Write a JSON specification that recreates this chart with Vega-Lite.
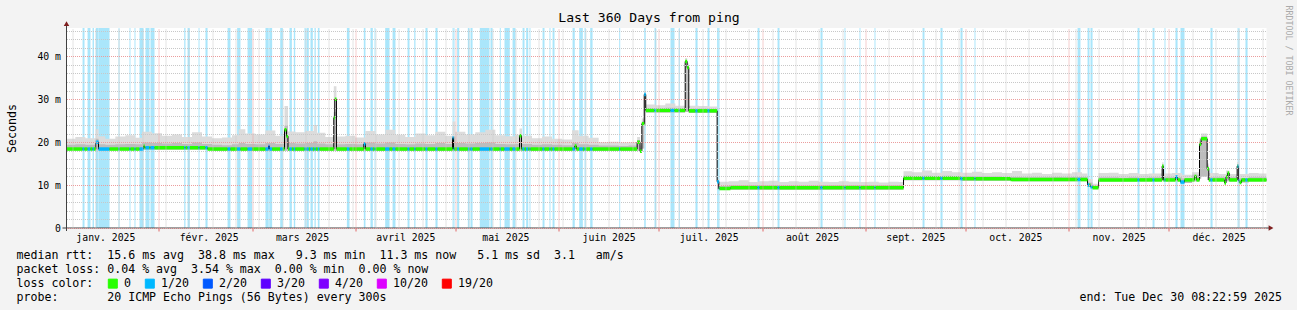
{
"$schema": "https://vega.github.io/schema/vega-lite/v6.json",
"width": 1200, "height": 200,
"autosize": {"type": "none"},
"padding": {"left": 66.5, "top": 28, "right": 30.5, "bottom": 82},
"background": "#f3f3f3",
"config": {"view": {"fill": "#ffffff", "stroke": null}, "font": "DejaVu Sans Mono"},
"data": {"format": {"parse": {"t0": "utc:'%Y-%j %H'", "t1": "utc:'%Y-%j %H'"}}, "values": [
{"t0":"2025-004 09","t1":"2025-009 04","med":18.4,"loss":"0"},
{"t0":"2025-009 04","t1":"2025-009 18","med":18.4,"loss":"1/20"},
{"t0":"2025-009 18","t1":"2025-010 16","med":18.4,"loss":"0"},
{"t0":"2025-010 16","t1":"2025-011 13","med":18.4,"loss":"1/20"},
{"t0":"2025-011 13","t1":"2025-012 04","med":18.4,"loss":"0"},
{"t0":"2025-012 04","t1":"2025-012 14","med":18.4,"loss":"1/20"},
{"t0":"2025-012 14","t1":"2025-013 03","med":18.4,"loss":"0"},
{"t0":"2025-013 03","t1":"2025-013 23","med":20.0,"loss":"1/20"},
{"t0":"2025-013 23","t1":"2025-017 06","med":18.4,"loss":"1/20"},
{"t0":"2025-017 06","t1":"2025-019 23","med":18.4,"loss":"0"},
{"t0":"2025-019 23","t1":"2025-020 06","med":18.4,"loss":"1/20"},
{"t0":"2025-020 06","t1":"2025-023 06","med":18.4,"loss":"0"},
{"t0":"2025-023 06","t1":"2025-023 13","med":18.4,"loss":"1/20"},
{"t0":"2025-023 13","t1":"2025-024 18","med":18.4,"loss":"0"},
{"t0":"2025-024 18","t1":"2025-025 01","med":18.4,"loss":"1/20"},
{"t0":"2025-025 01","t1":"2025-026 06","med":18.4,"loss":"0"},
{"t0":"2025-026 06","t1":"2025-027 11","med":18.4,"loss":"1/20"},
{"t0":"2025-027 11","t1":"2025-027 18","med":19.1,"loss":"0"},
{"t0":"2025-027 18","t1":"2025-028 01","med":18.7,"loss":"0"},
{"t0":"2025-028 01","t1":"2025-029 06","med":18.7,"loss":"1/20"},
{"t0":"2025-029 06","t1":"2025-029 13","med":18.7,"loss":"0"},
{"t0":"2025-029 13","t1":"2025-030 18","med":18.7,"loss":"1/20"},
{"t0":"2025-030 18","t1":"2025-039 16","med":18.7,"loss":"0"},
{"t0":"2025-039 16","t1":"2025-040 01","med":18.7,"loss":"1/20"},
{"t0":"2025-040 01","t1":"2025-040 16","med":18.7,"loss":"0"},
{"t0":"2025-040 16","t1":"2025-041 08","med":18.7,"loss":"1/20"},
{"t0":"2025-041 08","t1":"2025-043 23","med":18.7,"loss":"0"},
{"t0":"2025-043 23","t1":"2025-044 06","med":18.7,"loss":"1/20"},
{"t0":"2025-044 06","t1":"2025-046 01","med":18.7,"loss":"0"},
{"t0":"2025-046 01","t1":"2025-046 16","med":18.7,"loss":"1/20"},
{"t0":"2025-046 16","t1":"2025-052 16","med":18.4,"loss":"0"},
{"t0":"2025-052 16","t1":"2025-053 13","med":18.4,"loss":"1/20"},
{"t0":"2025-053 13","t1":"2025-055 13","med":18.4,"loss":"0"},
{"t0":"2025-055 13","t1":"2025-056 13","med":18.4,"loss":"1/20"},
{"t0":"2025-056 13","t1":"2025-058 16","med":18.4,"loss":"0"},
{"t0":"2025-058 16","t1":"2025-060 01","med":18.4,"loss":"1/20"},
{"t0":"2025-060 01","t1":"2025-064 01","med":18.4,"loss":"0"},
{"t0":"2025-064 01","t1":"2025-064 23","med":18.4,"loss":"1/20"},
{"t0":"2025-064 23","t1":"2025-065 06","med":19.0,"loss":"2/20"},
{"t0":"2025-065 06","t1":"2025-066 01","med":18.4,"loss":"1/20"},
{"t0":"2025-066 01","t1":"2025-068 11","med":18.4,"loss":"0"},
{"t0":"2025-068 11","t1":"2025-069 06","med":18.4,"loss":"1/20"},
{"t0":"2025-069 06","t1":"2025-069 18","med":18.4,"loss":"0"},
{"t0":"2025-069 18","t1":"2025-070 08","med":22.9,"loss":"0"},
{"t0":"2025-070 08","t1":"2025-070 19","med":21.4,"loss":"0"},
{"t0":"2025-070 19","t1":"2025-071 06","med":18.4,"loss":"0"},
{"t0":"2025-071 06","t1":"2025-071 23","med":18.4,"loss":"1/20"},
{"t0":"2025-071 23","t1":"2025-072 13","med":18.4,"loss":"0"},
{"t0":"2025-072 13","t1":"2025-072 23","med":18.4,"loss":"1/20"},
{"t0":"2025-072 23","t1":"2025-075 18","med":18.4,"loss":"0"},
{"t0":"2025-075 18","t1":"2025-076 03","med":18.4,"loss":"1/20"},
{"t0":"2025-076 03","t1":"2025-076 08","med":18.4,"loss":"0"},
{"t0":"2025-076 08","t1":"2025-077 01","med":18.4,"loss":"1/20"},
{"t0":"2025-077 01","t1":"2025-077 13","med":18.4,"loss":"0"},
{"t0":"2025-077 13","t1":"2025-078 06","med":18.4,"loss":"1/20"},
{"t0":"2025-078 06","t1":"2025-078 18","med":18.4,"loss":"0"},
{"t0":"2025-078 18","t1":"2025-079 03","med":18.4,"loss":"1/20"},
{"t0":"2025-079 03","t1":"2025-079 18","med":18.4,"loss":"0"},
{"t0":"2025-079 18","t1":"2025-080 06","med":18.4,"loss":"1/20"},
{"t0":"2025-080 06","t1":"2025-084 13","med":18.4,"loss":"0"},
{"t0":"2025-084 13","t1":"2025-084 20","med":25.7,"loss":"0"},
{"t0":"2025-084 20","t1":"2025-085 08","med":30.0,"loss":"0"},
{"t0":"2025-085 08","t1":"2025-088 11","med":18.4,"loss":"0"},
{"t0":"2025-088 11","t1":"2025-089 06","med":18.4,"loss":"1/20"},
{"t0":"2025-089 06","t1":"2025-093 13","med":18.4,"loss":"0"},
{"t0":"2025-093 13","t1":"2025-094 01","med":19.6,"loss":"1/20"},
{"t0":"2025-094 01","t1":"2025-095 13","med":18.4,"loss":"0"},
{"t0":"2025-095 13","t1":"2025-096 06","med":18.4,"loss":"1/20"},
{"t0":"2025-096 06","t1":"2025-096 18","med":18.4,"loss":"0"},
{"t0":"2025-096 18","t1":"2025-097 01","med":18.4,"loss":"1/20"},
{"t0":"2025-097 01","t1":"2025-099 23","med":18.4,"loss":"0"},
{"t0":"2025-099 23","t1":"2025-101 06","med":18.4,"loss":"1/20"},
{"t0":"2025-101 06","t1":"2025-102 04","med":18.4,"loss":"0"},
{"t0":"2025-102 04","t1":"2025-103 01","med":18.4,"loss":"1/20"},
{"t0":"2025-103 01","t1":"2025-106 16","med":18.4,"loss":"0"},
{"t0":"2025-106 16","t1":"2025-107 06","med":18.4,"loss":"1/20"},
{"t0":"2025-107 06","t1":"2025-108 16","med":18.4,"loss":"0"},
{"t0":"2025-108 16","t1":"2025-109 01","med":18.4,"loss":"1/20"},
{"t0":"2025-109 01","t1":"2025-112 01","med":18.4,"loss":"0"},
{"t0":"2025-112 01","t1":"2025-112 16","med":18.4,"loss":"1/20"},
{"t0":"2025-112 16","t1":"2025-115 01","med":18.4,"loss":"0"},
{"t0":"2025-115 01","t1":"2025-115 16","med":18.4,"loss":"1/20"},
{"t0":"2025-115 16","t1":"2025-120 04","med":18.4,"loss":"0"},
{"t0":"2025-120 04","t1":"2025-120 11","med":21.0,"loss":"1/20"},
{"t0":"2025-120 11","t1":"2025-120 18","med":18.4,"loss":"1/20"},
{"t0":"2025-120 18","t1":"2025-121 13","med":18.4,"loss":"0"},
{"t0":"2025-121 13","t1":"2025-122 04","med":18.4,"loss":"1/20"},
{"t0":"2025-122 04","t1":"2025-124 18","med":18.4,"loss":"0"},
{"t0":"2025-124 18","t1":"2025-125 06","med":18.4,"loss":"1/20"},
{"t0":"2025-125 06","t1":"2025-125 13","med":18.4,"loss":"0"},
{"t0":"2025-125 13","t1":"2025-126 04","med":18.4,"loss":"1/20"},
{"t0":"2025-126 04","t1":"2025-128 08","med":18.4,"loss":"0"},
{"t0":"2025-128 08","t1":"2025-131 06","med":18.4,"loss":"1/20"},
{"t0":"2025-131 06","t1":"2025-131 13","med":18.4,"loss":"0"},
{"t0":"2025-131 13","t1":"2025-132 04","med":18.4,"loss":"1/20"},
{"t0":"2025-132 04","t1":"2025-134 08","med":18.4,"loss":"0"},
{"t0":"2025-134 08","t1":"2025-134 15","med":18.4,"loss":"1/20"},
{"t0":"2025-134 15","t1":"2025-135 18","med":18.4,"loss":"0"},
{"t0":"2025-135 18","t1":"2025-137 08","med":18.4,"loss":"1/20"},
{"t0":"2025-137 08","t1":"2025-138 04","med":18.4,"loss":"0"},
{"t0":"2025-138 04","t1":"2025-139 01","med":18.4,"loss":"1/20"},
{"t0":"2025-139 01","t1":"2025-140 06","med":18.4,"loss":"0"},
{"t0":"2025-140 06","t1":"2025-140 20","med":21.5,"loss":"0"},
{"t0":"2025-140 20","t1":"2025-141 04","med":18.4,"loss":"0"},
{"t0":"2025-141 04","t1":"2025-141 18","med":18.4,"loss":"1/20"},
{"t0":"2025-141 18","t1":"2025-142 06","med":18.4,"loss":"0"},
{"t0":"2025-142 06","t1":"2025-142 21","med":18.4,"loss":"1/20"},
{"t0":"2025-142 21","t1":"2025-143 06","med":18.4,"loss":"0"},
{"t0":"2025-143 06","t1":"2025-143 13","med":18.4,"loss":"1/20"},
{"t0":"2025-143 13","t1":"2025-147 04","med":18.4,"loss":"0"},
{"t0":"2025-147 04","t1":"2025-147 18","med":18.4,"loss":"1/20"},
{"t0":"2025-147 18","t1":"2025-149 06","med":18.4,"loss":"0"},
{"t0":"2025-149 06","t1":"2025-149 13","med":18.4,"loss":"1/20"},
{"t0":"2025-149 13","t1":"2025-150 04","med":18.4,"loss":"0"},
{"t0":"2025-150 04","t1":"2025-150 18","med":18.4,"loss":"1/20"},
{"t0":"2025-150 18","t1":"2025-156 04","med":18.4,"loss":"0"},
{"t0":"2025-156 04","t1":"2025-156 20","med":18.4,"loss":"1/20"},
{"t0":"2025-156 20","t1":"2025-157 08","med":19.1,"loss":"0"},
{"t0":"2025-157 08","t1":"2025-158 04","med":18.4,"loss":"0"},
{"t0":"2025-158 04","t1":"2025-159 06","med":18.4,"loss":"1/20"},
{"t0":"2025-159 06","t1":"2025-159 18","med":18.4,"loss":"0"},
{"t0":"2025-159 18","t1":"2025-160 03","med":18.4,"loss":"1/20"},
{"t0":"2025-160 03","t1":"2025-161 11","med":18.4,"loss":"0"},
{"t0":"2025-161 11","t1":"2025-162 04","med":18.4,"loss":"1/20"},
{"t0":"2025-162 04","t1":"2025-170 04","med":18.4,"loss":"0"},
{"t0":"2025-170 04","t1":"2025-170 11","med":18.4,"loss":"1/20"},
{"t0":"2025-170 11","t1":"2025-175 13","med":18.4,"loss":"0"},
{"t0":"2025-175 13","t1":"2025-176 10","med":20.0,"loss":"0"},
{"t0":"2025-176 10","t1":"2025-176 23","med":17.9,"loss":"0"},
{"t0":"2025-176 23","t1":"2025-177 16","med":24.3,"loss":"0"},
{"t0":"2025-177 16","t1":"2025-178 03","med":31.1,"loss":"1/20"},
{"t0":"2025-178 03","t1":"2025-180 18","med":27.4,"loss":"0"},
{"t0":"2025-180 18","t1":"2025-181 06","med":27.4,"loss":"1/20"},
{"t0":"2025-181 06","t1":"2025-185 13","med":27.4,"loss":"0"},
{"t0":"2025-185 13","t1":"2025-186 18","med":27.4,"loss":"1/20"},
{"t0":"2025-186 18","t1":"2025-188 01","med":27.4,"loss":"0"},
{"t0":"2025-188 01","t1":"2025-188 08","med":27.4,"loss":"1/20"},
{"t0":"2025-188 08","t1":"2025-189 23","med":27.4,"loss":"0"},
{"t0":"2025-189 23","t1":"2025-190 13","med":38.8,"loss":"0"},
{"t0":"2025-190 13","t1":"2025-191 01","med":37.4,"loss":"0"},
{"t0":"2025-191 01","t1":"2025-193 01","med":27.3,"loss":"0"},
{"t0":"2025-193 01","t1":"2025-193 16","med":27.3,"loss":"1/20"},
{"t0":"2025-193 16","t1":"2025-196 16","med":27.3,"loss":"0"},
{"t0":"2025-196 16","t1":"2025-197 06","med":27.3,"loss":"1/20"},
{"t0":"2025-197 06","t1":"2025-199 13","med":27.3,"loss":"0"},
{"t0":"2025-199 13","t1":"2025-200 01","med":10.8,"loss":"1/20"},
{"t0":"2025-200 01","t1":"2025-200 06","med":9.2,"loss":"1/20"},
{"t0":"2025-200 06","t1":"2025-203 13","med":9.2,"loss":"0"},
{"t0":"2025-203 13","t1":"2025-211 16","med":9.4,"loss":"0"},
{"t0":"2025-211 16","t1":"2025-212 06","med":9.4,"loss":"1/20"},
{"t0":"2025-212 06","t1":"2025-217 16","med":9.4,"loss":"0"},
{"t0":"2025-217 16","t1":"2025-218 06","med":9.4,"loss":"1/20"},
{"t0":"2025-218 06","t1":"2025-230 13","med":9.4,"loss":"0"},
{"t0":"2025-230 13","t1":"2025-231 04","med":9.4,"loss":"1/20"},
{"t0":"2025-231 04","t1":"2025-237 18","med":9.4,"loss":"0"},
{"t0":"2025-237 18","t1":"2025-238 01","med":9.4,"loss":"1/20"},
{"t0":"2025-238 01","t1":"2025-242 06","med":9.4,"loss":"0"},
{"t0":"2025-242 06","t1":"2025-242 13","med":9.4,"loss":"1/20"},
{"t0":"2025-242 13","t1":"2025-246 18","med":9.4,"loss":"0"},
{"t0":"2025-246 18","t1":"2025-247 01","med":9.4,"loss":"1/20"},
{"t0":"2025-247 01","t1":"2025-255 11","med":9.4,"loss":"0"},
{"t0":"2025-255 11","t1":"2025-261 04","med":11.6,"loss":"0"},
{"t0":"2025-261 04","t1":"2025-261 18","med":11.6,"loss":"1/20"},
{"t0":"2025-261 18","t1":"2025-266 13","med":11.6,"loss":"0"},
{"t0":"2025-266 13","t1":"2025-267 04","med":11.6,"loss":"1/20"},
{"t0":"2025-267 04","t1":"2025-272 13","med":11.6,"loss":"0"},
{"t0":"2025-272 13","t1":"2025-273 04","med":11.5,"loss":"1/20"},
{"t0":"2025-273 04","t1":"2025-276 18","med":11.5,"loss":"0"},
{"t0":"2025-276 18","t1":"2025-277 01","med":11.5,"loss":"1/20"},
{"t0":"2025-277 01","t1":"2025-287 13","med":11.5,"loss":"0"},
{"t0":"2025-287 13","t1":"2025-307 16","med":11.3,"loss":"0"},
{"t0":"2025-307 16","t1":"2025-308 13","med":11.3,"loss":"1/20"},
{"t0":"2025-308 13","t1":"2025-310 16","med":11.3,"loss":"0"},
{"t0":"2025-310 16","t1":"2025-311 06","med":10.0,"loss":"1/20"},
{"t0":"2025-311 06","t1":"2025-311 13","med":10.0,"loss":"0"},
{"t0":"2025-311 13","t1":"2025-312 04","med":9.6,"loss":"1/20"},
{"t0":"2025-312 04","t1":"2025-313 23","med":9.4,"loss":"0"},
{"t0":"2025-313 23","t1":"2025-325 16","med":11.2,"loss":"0"},
{"t0":"2025-325 16","t1":"2025-326 06","med":11.2,"loss":"1/20"},
{"t0":"2025-326 06","t1":"2025-330 04","med":11.2,"loss":"0"},
{"t0":"2025-330 04","t1":"2025-330 18","med":11.2,"loss":"1/20"},
{"t0":"2025-330 18","t1":"2025-333 01","med":11.2,"loss":"0"},
{"t0":"2025-333 01","t1":"2025-333 11","med":14.4,"loss":"0"},
{"t0":"2025-333 11","t1":"2025-333 18","med":11.2,"loss":"0"},
{"t0":"2025-333 18","t1":"2025-334 01","med":11.2,"loss":"1/20"},
{"t0":"2025-334 01","t1":"2025-337 01","med":11.2,"loss":"0"},
{"t0":"2025-337 01","t1":"2025-337 16","med":11.9,"loss":"1/20"},
{"t0":"2025-337 16","t1":"2025-338 13","med":11.2,"loss":"0"},
{"t0":"2025-338 13","t1":"2025-339 18","med":10.7,"loss":"1/20"},
{"t0":"2025-339 18","t1":"2025-342 18","med":11.2,"loss":"0"},
{"t0":"2025-342 18","t1":"2025-343 08","med":12.0,"loss":"0"},
{"t0":"2025-343 08","t1":"2025-344 06","med":11.2,"loss":"0"},
{"t0":"2025-344 06","t1":"2025-344 18","med":19.5,"loss":"0"},
{"t0":"2025-344 18","t1":"2025-346 13","med":20.8,"loss":"0"},
{"t0":"2025-346 13","t1":"2025-347 01","med":13.8,"loss":"0"},
{"t0":"2025-347 01","t1":"2025-347 13","med":11.2,"loss":"0"},
{"t0":"2025-347 13","t1":"2025-348 04","med":11.2,"loss":"1/20"},
{"t0":"2025-348 04","t1":"2025-351 18","med":11.2,"loss":"0"},
{"t0":"2025-351 18","t1":"2025-352 05","med":10.5,"loss":"0"},
{"t0":"2025-352 05","t1":"2025-352 16","med":11.9,"loss":"0"},
{"t0":"2025-352 16","t1":"2025-353 04","med":12.8,"loss":"0"},
{"t0":"2025-353 04","t1":"2025-355 13","med":11.2,"loss":"0"},
{"t0":"2025-355 13","t1":"2025-355 16","med":14.4,"loss":"0"},
{"t0":"2025-355 16","t1":"2025-355 23","med":14.4,"loss":"1/20"},
{"t0":"2025-355 23","t1":"2025-356 06","med":11.0,"loss":"1/20"},
{"t0":"2025-356 06","t1":"2025-356 20","med":10.6,"loss":"0"},
{"t0":"2025-356 20","t1":"2025-358 01","med":11.2,"loss":"0"},
{"t0":"2025-358 01","t1":"2025-358 16","med":11.2,"loss":"1/20"},
{"t0":"2025-358 16","t1":"2025-364 08","med":11.2,"loss":"0"},
{"t0":"2025-364 08","t1":"2025-364 08","med":11.2,"loss":"0"}
]},
"resolve": {"axis": {"x": "independent", "y": "independent"}},
"layer": [
{
"transform": [{"filter": "datum.loss != '0'"}],
"mark": {"type": "rect", "color": "#aae6fb"},
"encoding": {
"x": {"field": "t0", "type": "temporal",
"scale": {"type": "utc", "domain": [{"year":2025,"month":1,"date":4,"hours":8,"minutes":23,"utc":true},{"year":2025,"month":12,"date":30,"hours":8,"minutes":23,"utc":true}]},
"axis": {
"orient": "bottom",
"values": [
{"year":2025,"month":1,"date":6,"utc":true},{"year":2025,"month":1,"date":13,"utc":true},{"year":2025,"month":1,"date":16,"utc":true},{"year":2025,"month":1,"date":20,"utc":true},{"year":2025,"month":1,"date":27,"utc":true},
{"year":2025,"month":2,"date":1,"utc":true},{"year":2025,"month":2,"date":3,"utc":true},{"year":2025,"month":2,"date":10,"utc":true},{"year":2025,"month":2,"date":16,"utc":true},{"year":2025,"month":2,"date":17,"utc":true},{"year":2025,"month":2,"date":24,"utc":true},
{"year":2025,"month":3,"date":1,"utc":true},{"year":2025,"month":3,"date":3,"utc":true},{"year":2025,"month":3,"date":10,"utc":true},{"year":2025,"month":3,"date":16,"utc":true},{"year":2025,"month":3,"date":17,"utc":true},{"year":2025,"month":3,"date":24,"utc":true},{"year":2025,"month":3,"date":31,"utc":true},
{"year":2025,"month":4,"date":1,"utc":true},{"year":2025,"month":4,"date":7,"utc":true},{"year":2025,"month":4,"date":14,"utc":true},{"year":2025,"month":4,"date":16,"utc":true},{"year":2025,"month":4,"date":21,"utc":true},{"year":2025,"month":4,"date":28,"utc":true},
{"year":2025,"month":5,"date":1,"utc":true},{"year":2025,"month":5,"date":5,"utc":true},{"year":2025,"month":5,"date":12,"utc":true},{"year":2025,"month":5,"date":16,"utc":true},{"year":2025,"month":5,"date":19,"utc":true},{"year":2025,"month":5,"date":26,"utc":true},
{"year":2025,"month":6,"date":1,"utc":true},{"year":2025,"month":6,"date":2,"utc":true},{"year":2025,"month":6,"date":9,"utc":true},{"year":2025,"month":6,"date":16,"utc":true},{"year":2025,"month":6,"date":23,"utc":true},{"year":2025,"month":6,"date":30,"utc":true},
{"year":2025,"month":7,"date":1,"utc":true},{"year":2025,"month":7,"date":7,"utc":true},{"year":2025,"month":7,"date":14,"utc":true},{"year":2025,"month":7,"date":16,"utc":true},{"year":2025,"month":7,"date":21,"utc":true},{"year":2025,"month":7,"date":28,"utc":true},
{"year":2025,"month":8,"date":1,"utc":true},{"year":2025,"month":8,"date":4,"utc":true},{"year":2025,"month":8,"date":11,"utc":true},{"year":2025,"month":8,"date":16,"utc":true},{"year":2025,"month":8,"date":18,"utc":true},{"year":2025,"month":8,"date":25,"utc":true},
{"year":2025,"month":9,"date":1,"utc":true},{"year":2025,"month":9,"date":8,"utc":true},{"year":2025,"month":9,"date":15,"utc":true},{"year":2025,"month":9,"date":16,"utc":true},{"year":2025,"month":9,"date":22,"utc":true},{"year":2025,"month":9,"date":29,"utc":true},
{"year":2025,"month":10,"date":1,"utc":true},{"year":2025,"month":10,"date":6,"utc":true},{"year":2025,"month":10,"date":13,"utc":true},{"year":2025,"month":10,"date":16,"utc":true},{"year":2025,"month":10,"date":20,"utc":true},{"year":2025,"month":10,"date":27,"utc":true},
{"year":2025,"month":11,"date":1,"utc":true},{"year":2025,"month":11,"date":3,"utc":true},{"year":2025,"month":11,"date":10,"utc":true},{"year":2025,"month":11,"date":16,"utc":true},{"year":2025,"month":11,"date":17,"utc":true},{"year":2025,"month":11,"date":24,"utc":true},
{"year":2025,"month":12,"date":1,"utc":true},{"year":2025,"month":12,"date":8,"utc":true},{"year":2025,"month":12,"date":15,"utc":true},{"year":2025,"month":12,"date":16,"utc":true},{"year":2025,"month":12,"date":22,"utc":true},{"year":2025,"month":12,"date":29,"utc":true}
],
"domain": false,
"grid": true, "gridDash": [1, 1], "gridWidth": 1,
"gridColor": {"condition": {"test": "utcdate(datum.value) == 1", "value": "#eb9d9d"}, "value": "#c8c8c8"},
"gridOpacity": {"condition": {"test": "utcdate(datum.value) == 16 && utcday(datum.value) != 1", "value": 0}, "value": 1},
"ticks": true, "tickSize": 3, "tickColor": "#e06666",
"tickOpacity": {"condition": {"test": "utcdate(datum.value) == 1", "value": 1}, "value": 0},
"labelExpr": "utcdate(datum.value) == 16 ? ['janv.','févr.','mars','avril','mai','juin','juil.','août','sept.','oct.','nov.','déc.'][utcmonth(datum.value)] + ' 2025' : ''",
"labelFont": "DejaVu Sans Mono", "labelFontSize": 9.8, "labelColor": "#000000", "labelPadding": 1, "labelOverlap": false, "labelFlush": false, "labelBound": false, "labelAngle": 0,
"title": [
"median rtt:\u00a0\u00a015.6 ms avg\u00a0\u00a038.8 ms max\u00a0\u00a0\u00a09.3 ms min\u00a0\u00a011.3 ms now\u00a0\u00a0\u00a05.1 ms sd\u00a0\u00a03.1\u00a0\u00a0\u00a0am/s",
"packet loss: 0.04 % avg\u00a0\u00a03.54 % max\u00a0\u00a00.00 % min\u00a0\u00a00.00 % now",
"loss color:",
"probe:\u00a0\u00a0\u00a0\u00a0\u00a0\u00a0\u00a020 ICMP Echo Pings (56 Bytes) every 300s"
],
"titleFont": "DejaVu Sans Mono", "titleFontSize": 11.6, "titleFontWeight": "normal", "titleColor": "#000000",
"titleAlign": "left", "titleAnchor": "start", "titleBaseline": "alphabetic", "titleX": -50.5, "titleY": 30.2, "titleLineHeight": 14, "titleLimit": 2000,
"zindex": 1
}
},
"x2": {"field": "t1"}
}
},
{
"data": {"format": {"parse": {"t": "utc:'%Y-%j %H'"}}, "values": [
{"t":"2025-004 09","lo":18.1,"mid":19.4,"hi":20.8},
{"t":"2025-007 00","lo":18.1,"mid":19.5,"hi":21.2},
{"t":"2025-010 00","lo":18.1,"mid":19.4,"hi":20.9},
{"t":"2025-013 03","lo":18.1,"mid":20.8,"hi":23.0},
{"t":"2025-013 23","lo":18.1,"mid":19.5,"hi":21.4},
{"t":"2025-016 00","lo":18.1,"mid":19.4,"hi":20.8},
{"t":"2025-019 00","lo":18.1,"mid":19.5,"hi":21.3},
{"t":"2025-022 00","lo":18.1,"mid":19.6,"hi":21.6},
{"t":"2025-025 00","lo":18.1,"mid":19.5,"hi":21.0},
{"t":"2025-027 00","lo":18.3,"mid":19.9,"hi":22.4},
{"t":"2025-030 00","lo":18.3,"mid":19.8,"hi":22.1},
{"t":"2025-033 00","lo":18.3,"mid":19.7,"hi":21.5},
{"t":"2025-036 00","lo":18.3,"mid":19.8,"hi":21.8},
{"t":"2025-039 00","lo":18.3,"mid":19.6,"hi":21.2},
{"t":"2025-042 00","lo":18.3,"mid":19.9,"hi":22.3},
{"t":"2025-045 00","lo":18.3,"mid":19.6,"hi":21.3},
{"t":"2025-048 00","lo":18.0,"mid":19.4,"hi":20.9},
{"t":"2025-051 00","lo":18.0,"mid":19.3,"hi":21.1},
{"t":"2025-054 00","lo":18.0,"mid":19.5,"hi":21.6},
{"t":"2025-056 00","lo":18.0,"mid":19.8,"hi":23.0},
{"t":"2025-058 00","lo":18.0,"mid":19.6,"hi":22.0},
{"t":"2025-061 00","lo":18.0,"mid":19.5,"hi":21.8},
{"t":"2025-064 00","lo":18.0,"mid":19.8,"hi":22.7},
{"t":"2025-067 00","lo":18.0,"mid":19.6,"hi":21.5},
{"t":"2025-069 18","lo":18.0,"mid":23.8,"hi":28.4},
{"t":"2025-070 19","lo":18.0,"mid":19.8,"hi":22.5},
{"t":"2025-073 00","lo":18.0,"mid":19.7,"hi":22.3},
{"t":"2025-076 00","lo":18.0,"mid":19.8,"hi":22.6},
{"t":"2025-078 12","lo":18.0,"mid":20.2,"hi":24.0},
{"t":"2025-079 12","lo":18.0,"mid":19.7,"hi":22.2},
{"t":"2025-082 00","lo":18.0,"mid":19.5,"hi":21.2},
{"t":"2025-084 13","lo":18.0,"mid":27.0,"hi":33.0},
{"t":"2025-085 08","lo":18.0,"mid":19.5,"hi":21.3},
{"t":"2025-088 00","lo":18.0,"mid":19.6,"hi":21.5},
{"t":"2025-091 00","lo":18.0,"mid":19.5,"hi":21.1},
{"t":"2025-094 00","lo":18.0,"mid":19.9,"hi":22.6},
{"t":"2025-097 00","lo":18.0,"mid":19.7,"hi":21.8},
{"t":"2025-100 00","lo":18.0,"mid":19.9,"hi":22.9},
{"t":"2025-103 00","lo":18.0,"mid":19.6,"hi":21.7},
{"t":"2025-106 00","lo":18.0,"mid":19.5,"hi":21.2},
{"t":"2025-109 00","lo":18.0,"mid":19.7,"hi":22.0},
{"t":"2025-112 00","lo":18.0,"mid":19.6,"hi":21.6},
{"t":"2025-115 00","lo":18.0,"mid":19.8,"hi":22.4},
{"t":"2025-118 00","lo":18.0,"mid":19.6,"hi":21.5},
{"t":"2025-120 04","lo":18.0,"mid":21.3,"hi":24.8},
{"t":"2025-121 00","lo":18.0,"mid":19.8,"hi":22.4},
{"t":"2025-124 00","lo":18.0,"mid":19.7,"hi":21.8},
{"t":"2025-127 00","lo":18.0,"mid":19.8,"hi":22.3},
{"t":"2025-130 00","lo":18.0,"mid":19.9,"hi":22.9},
{"t":"2025-133 00","lo":18.0,"mid":19.6,"hi":21.6},
{"t":"2025-136 00","lo":18.0,"mid":19.5,"hi":21.4},
{"t":"2025-139 00","lo":18.0,"mid":19.6,"hi":21.7},
{"t":"2025-140 06","lo":18.0,"mid":21.6,"hi":23.2},
{"t":"2025-141 00","lo":18.0,"mid":19.6,"hi":21.5},
{"t":"2025-144 00","lo":18.0,"mid":19.4,"hi":20.9},
{"t":"2025-147 00","lo":18.0,"mid":19.5,"hi":21.3},
{"t":"2025-150 00","lo":18.0,"mid":19.4,"hi":20.8},
{"t":"2025-153 00","lo":18.0,"mid":19.3,"hi":20.6},
{"t":"2025-156 00","lo":18.0,"mid":19.8,"hi":22.8},
{"t":"2025-158 00","lo":18.0,"mid":19.5,"hi":21.5},
{"t":"2025-161 00","lo":18.0,"mid":19.4,"hi":21.0},
{"t":"2025-164 00","lo":18.0,"mid":19.2,"hi":20.0},
{"t":"2025-167 00","lo":18.0,"mid":19.2,"hi":20.1},
{"t":"2025-170 00","lo":18.0,"mid":19.1,"hi":19.9},
{"t":"2025-173 00","lo":18.0,"mid":19.2,"hi":20.0},
{"t":"2025-175 13","lo":18.0,"mid":20.4,"hi":21.2},
{"t":"2025-176 10","lo":17.6,"mid":18.6,"hi":19.2},
{"t":"2025-176 23","lo":18.5,"mid":24.8,"hi":25.5},
{"t":"2025-177 16","lo":24.0,"mid":31.5,"hi":32.0},
{"t":"2025-178 03","lo":26.9,"mid":27.9,"hi":28.8},
{"t":"2025-181 00","lo":26.9,"mid":27.9,"hi":28.6},
{"t":"2025-184 00","lo":26.9,"mid":28.0,"hi":29.0},
{"t":"2025-187 00","lo":26.9,"mid":27.9,"hi":28.5},
{"t":"2025-189 23","lo":27.0,"mid":39.0,"hi":39.6},
{"t":"2025-190 13","lo":27.0,"mid":37.8,"hi":38.4},
{"t":"2025-191 01","lo":26.8,"mid":27.8,"hi":28.5},
{"t":"2025-194 00","lo":26.8,"mid":27.8,"hi":28.4},
{"t":"2025-197 00","lo":26.8,"mid":27.7,"hi":28.3},
{"t":"2025-199 13","lo":9.0,"mid":11.2,"hi":11.5},
{"t":"2025-200 01","lo":8.9,"mid":9.8,"hi":10.8},
{"t":"2025-203 00","lo":8.9,"mid":9.9,"hi":10.9},
{"t":"2025-206 00","lo":8.9,"mid":9.9,"hi":11.1},
{"t":"2025-209 00","lo":8.9,"mid":9.9,"hi":10.7},
{"t":"2025-212 00","lo":8.9,"mid":9.9,"hi":10.9},
{"t":"2025-215 00","lo":8.9,"mid":9.9,"hi":11.0},
{"t":"2025-218 00","lo":8.9,"mid":9.9,"hi":10.7},
{"t":"2025-221 00","lo":8.9,"mid":9.9,"hi":10.9},
{"t":"2025-224 00","lo":8.9,"mid":9.9,"hi":10.8},
{"t":"2025-227 00","lo":8.9,"mid":9.9,"hi":11.0},
{"t":"2025-230 00","lo":8.9,"mid":9.9,"hi":10.8},
{"t":"2025-233 00","lo":8.9,"mid":9.9,"hi":10.7},
{"t":"2025-236 00","lo":8.9,"mid":9.9,"hi":10.9},
{"t":"2025-239 00","lo":8.9,"mid":9.9,"hi":10.8},
{"t":"2025-242 00","lo":8.9,"mid":9.9,"hi":10.7},
{"t":"2025-245 00","lo":8.9,"mid":9.9,"hi":10.8},
{"t":"2025-248 00","lo":8.9,"mid":9.9,"hi":10.6},
{"t":"2025-251 00","lo":8.9,"mid":9.9,"hi":10.8},
{"t":"2025-254 00","lo":8.9,"mid":9.9,"hi":10.7},
{"t":"2025-255 11","lo":11.1,"mid":12.2,"hi":13.2},
{"t":"2025-258 00","lo":11.1,"mid":12.1,"hi":13.0},
{"t":"2025-261 00","lo":11.1,"mid":12.2,"hi":13.4},
{"t":"2025-264 00","lo":11.1,"mid":12.1,"hi":12.9},
{"t":"2025-267 00","lo":11.1,"mid":12.2,"hi":13.3},
{"t":"2025-270 00","lo":11.1,"mid":12.1,"hi":13.0},
{"t":"2025-273 00","lo":11.0,"mid":12.0,"hi":12.9},
{"t":"2025-276 00","lo":11.0,"mid":12.0,"hi":13.1},
{"t":"2025-279 00","lo":11.0,"mid":12.0,"hi":12.8},
{"t":"2025-282 00","lo":11.0,"mid":12.0,"hi":13.0},
{"t":"2025-285 00","lo":11.0,"mid":11.9,"hi":12.8},
{"t":"2025-288 00","lo":10.9,"mid":11.9,"hi":13.3},
{"t":"2025-291 00","lo":10.9,"mid":11.8,"hi":12.7},
{"t":"2025-294 00","lo":10.9,"mid":11.8,"hi":12.9},
{"t":"2025-297 00","lo":10.9,"mid":11.8,"hi":12.6},
{"t":"2025-300 00","lo":10.9,"mid":11.9,"hi":12.9},
{"t":"2025-303 00","lo":10.9,"mid":11.8,"hi":12.7},
{"t":"2025-306 00","lo":10.9,"mid":11.9,"hi":13.0},
{"t":"2025-309 00","lo":10.9,"mid":11.8,"hi":12.7},
{"t":"2025-310 16","lo":9.6,"mid":10.6,"hi":11.4},
{"t":"2025-312 04","lo":9.0,"mid":9.8,"hi":10.3},
{"t":"2025-313 23","lo":10.9,"mid":11.8,"hi":12.8},
{"t":"2025-317 00","lo":10.9,"mid":11.8,"hi":12.9},
{"t":"2025-320 00","lo":10.9,"mid":11.7,"hi":12.6},
{"t":"2025-323 00","lo":10.9,"mid":11.8,"hi":12.8},
{"t":"2025-326 00","lo":10.9,"mid":11.7,"hi":12.6},
{"t":"2025-329 00","lo":10.9,"mid":11.8,"hi":12.7},
{"t":"2025-333 01","lo":11.0,"mid":14.8,"hi":15.3},
{"t":"2025-333 11","lo":10.9,"mid":11.8,"hi":12.7},
{"t":"2025-336 00","lo":10.9,"mid":11.8,"hi":12.8},
{"t":"2025-339 00","lo":10.5,"mid":11.6,"hi":12.4},
{"t":"2025-342 00","lo":10.9,"mid":12.4,"hi":13.0},
{"t":"2025-344 06","lo":11.5,"mid":20.4,"hi":21.0},
{"t":"2025-344 18","lo":12.0,"mid":21.4,"hi":22.0},
{"t":"2025-346 13","lo":11.2,"mid":14.5,"hi":15.0},
{"t":"2025-347 01","lo":10.9,"mid":11.8,"hi":12.8},
{"t":"2025-350 00","lo":10.9,"mid":11.8,"hi":12.6},
{"t":"2025-352 05","lo":10.9,"mid":12.4,"hi":13.4},
{"t":"2025-353 04","lo":10.9,"mid":11.8,"hi":12.6},
{"t":"2025-355 13","lo":11.0,"mid":14.9,"hi":15.4},
{"t":"2025-355 23","lo":10.6,"mid":11.6,"hi":12.6},
{"t":"2025-359 00","lo":10.9,"mid":11.8,"hi":12.8},
{"t":"2025-362 00","lo":10.9,"mid":11.8,"hi":12.7},
{"t":"2025-364 08","lo":10.9,"mid":11.8,"hi":12.7}
]},
"transform": [{"fold": ["hi", "mid"], "as": ["band", "top"]}],
"mark": {"type": "area", "interpolate": "step-after"},
"encoding": {
"x": {"field": "t", "type": "temporal", "axis": null},
"y": {"field": "lo", "type": "quantitative", "scale": {"domain": [0, 46.6], "nice": false, "zero": false},
"axis": {"orient": "left", "values": [0,2,4,6,8,10,12,14,16,18,20,22,24,26,28,30,32,34,36,38,40,42,44,46],
"domain": false, "ticks": false, "tickSize": 0, "grid": true, "gridDash": [1, 1], "gridWidth": 1,
"gridColor": {"condition": {"test": "datum.value % 10 == 0", "value": "#eb9d9d"}, "value": "#c8c8c8"},
"labelExpr": "datum.value % 10 == 0 ? (datum.value == 0 ? '0\u00a0\u00a0' : datum.value + ' m') : ''",
"labelFont": "DejaVu Sans Mono", "labelFontSize": 9.8, "labelColor": "#000000", "labelPadding": 6, "labelOverlap": false, "labelBound": false,
"title": "Seconds", "titleFont": "DejaVu Sans Mono", "titleFontSize": 11.6, "titleFontWeight": "normal", "titleColor": "#000000",
"titleAngle": 270, "titleX": -51.2, "titleY": 100, "titleAlign": "center", "titleBaseline": "alphabetic", "zindex": 1}},
"y2": {"field": "top"},
"fill": {"field": "band", "type": "nominal", "scale": {"domain": ["hi", "mid"], "range": ["#dcdcdc", "#bdbdbd"]}, "legend": null}
}
},
{
"mark": {"type": "line", "interpolate": "step-after", "color": "#000000", "strokeWidth": 1},
"encoding": {
"x": {"field": "t0", "type": "temporal",
"axis": {"orient": "top", "labels": false, "ticks": false, "domain": false, "grid": false,
"title": "Last 360 Days from ping", "titleFont": "DejaVu Sans Mono", "titleFontSize": 13.1, "titleFontWeight": "normal", "titleColor": "#000000",
"titleX": 582, "titleY": -6.5, "titleAlign": "center", "titleAnchor": "middle", "titleBaseline": "alphabetic"}},
"y": {"field": "med", "type": "quantitative",
"axis": {"orient": "right", "labels": false, "ticks": false, "domain": false, "grid": false,
"title": "RRDTOOL / TOBI OETIKER", "titleFont": "DejaVu Sans Mono", "titleFontSize": 8.3, "titleFontWeight": "normal", "titleColor": "#aaaaaa",
"titleAngle": 90, "titleX": 21, "titleY": -23, "titleAlign": "left", "titleAnchor": "start", "titleBaseline": "middle"}}
}
},
{
"mark": {"type": "rule", "strokeWidth": 3.5},
"encoding": {
"x": {"field": "t0", "type": "temporal",
"axis": {"orient": "bottom", "labels": false, "ticks": false, "domain": false, "grid": false,
"title": "end: Tue Dec 30 08:22:59 2025", "titleFont": "DejaVu Sans Mono", "titleFontSize": 11.6, "titleFontWeight": "normal", "titleColor": "#000000",
"titleX": 1214.9, "titleY": 72.2, "titleAlign": "right", "titleAnchor": "end", "titleBaseline": "alphabetic", "titleLimit": 1000}},
"x2": {"field": "t1"},
"y": {"field": "med", "type": "quantitative", "axis": null},
"color": {"field": "loss", "type": "nominal",
"scale": {"domain": ["0", "1/20", "2/20", "3/20", "4/20", "10/20", "19/20"], "range": ["#26ff00", "#00b8ff", "#0059ff", "#5e00ff", "#7e00ff", "#dd00ff", "#ff0000"]},
"legend": {"orient": "none", "legendX": 40.5, "legendY": 249.5, "direction": "horizontal", "columns": 7, "title": null,
"symbolType": "square", "symbolSize": 81, "symbolStrokeWidth": 1, "symbolStrokeColor": "#000000",
"labelFont": "DejaVu Sans Mono", "labelFontSize": 11.6, "labelColor": "#000000", "labelOffset": 5.5, "columnPadding": 11, "padding": 0, "labelLimit": 0,
"encode": {"symbols": {"update": {"fill": {"scale": "color", "field": "value"}, "fillOpacity": {"value": 1}, "stroke": {"value": "#000000"}, "strokeWidth": {"value": 1}, "opacity": {"value": 1}}}}}
}
}
},
{
"data": {"values": [{}]},
"mark": {"type": "rule", "color": "#404040", "strokeWidth": 1},
"encoding": {
"x": {"datum": {"year":2025,"month":1,"date":4,"hours":8,"minutes":23,"utc":true}, "type": "temporal", "axis": null},
"y": {"datum": -0.7, "type": "quantitative", "axis": null},
"y2": {"datum": 47.2}
}
},
{
"data": {"values": [{}]},
"mark": {"type": "rule", "color": "#404040", "strokeWidth": 1},
"encoding": {
"x": {"datum": {"year":2025,"month":1,"date":3,"hours":3,"minutes":30,"utc":true}, "type": "temporal", "axis": null},
"x2": {"datum": {"year":2025,"month":12,"date":31,"hours":6,"utc":true}},
"y": {"datum": 0, "type": "quantitative", "axis": null}
}
},
{
"data": {"values": [{}]},
"mark": {"type": "point", "shape": "triangle-up", "filled": true, "color": "#7f1f1f", "size": 30, "opacity": 1},
"encoding": {
"x": {"datum": {"year":2025,"month":1,"date":4,"hours":8,"minutes":23,"utc":true}, "type": "temporal", "axis": null},
"y": {"datum": 47.6, "type": "quantitative", "axis": null}
}
},
{
"data": {"values": [{}]},
"mark": {"type": "point", "shape": "triangle-right", "filled": true, "color": "#7f1f1f", "size": 30, "opacity": 1},
"encoding": {
"x": {"datum": {"year":2025,"month":12,"date":31,"hours":16,"minutes":50,"utc":true}, "type": "temporal", "axis": null},
"y": {"datum": 0, "type": "quantitative", "axis": null}
}
}
]
}
